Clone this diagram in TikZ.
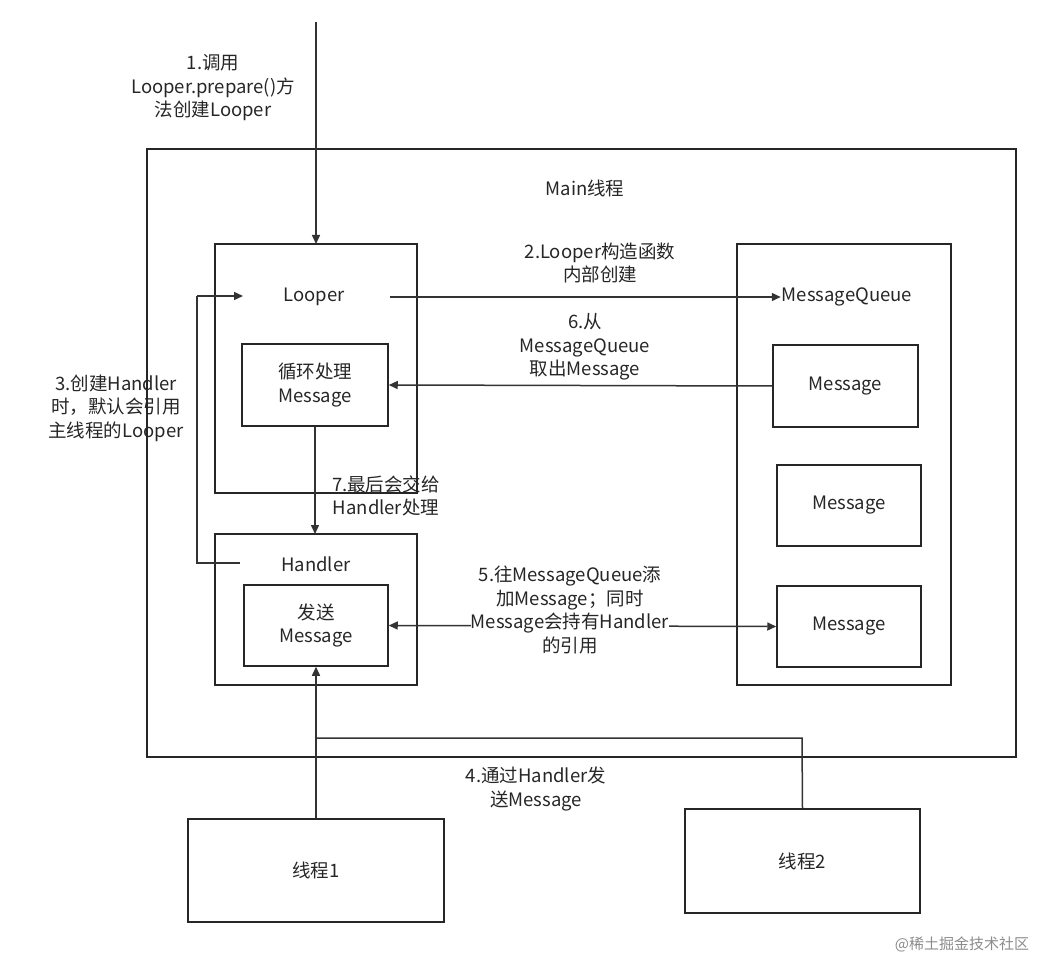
\documentclass[tikz,border=0pt]{standalone}
\usepackage{fontspec}
\setmainfont{Noto Sans CJK SC}
\usetikzlibrary{arrows.meta}
\begin{document}
\begin{tikzpicture}[x=1pt,y=-1pt,
  box/.style={draw=black!85,line width=1.5pt},
  lbl/.style={align=center,font=\fontsize{18.5}{23.5}\selectfont,text=black!85,inner sep=1pt},
  arr/.style={draw=black!80,line width=1.5pt,-{Triangle[length=9pt,width=8pt]}},
  ln/.style={draw=black!80,line width=1.5pt}]
\useasboundingbox (0,0) rectangle (1053,960);
\draw[box] (147,149) rectangle (1016,757);
\node[lbl] (mt) at (585,188) {Main线程};
\draw[box] (215,244) rectangle (417,493);
\node[lbl] (looper) at (314,297) {Looper};
\node[box,lbl,minimum width=146pt,minimum height=82pt] (loop) at (315,385) {循环处理\\Message};
\draw[box] (737,244) rectangle (951,685);
\node[lbl] (mq) at (847,297) {MessageQueue};
\node[box,lbl,minimum width=145pt,minimum height=82pt] (m1) at (845.5,386) {Message};
\node[box,lbl,minimum width=144pt,minimum height=81pt] (m2) at (849,505.5) {Message};
\node[box,lbl,minimum width=144pt,minimum height=81pt] (m3) at (849,626.5) {Message};
\draw[box] (215,534) rectangle (417,685);
\node[lbl] (handler) at (316,564) {Handler};
\node[box,lbl,minimum width=144pt,minimum height=81pt] (send) at (316,625.5) {发送\\Message};
\node[box,lbl,minimum width=256pt,minimum height=103pt] (t1) at (316,870.5) {线程1};
\node[box,lbl,minimum width=235pt,minimum height=104pt] (t2) at (802.5,861) {线程2};
\coordinate (top) at (316,22);
\coordinate (ls) at (390,297);
\draw[arr] (top) -- (316,244);
\node[lbl] at (213,88) {1.调用\\Looper.prepare()方\\法创建Looper};
\draw[arr] (ls) -- (mq.west);
\node[lbl] at (600,263) {2.Looper构造函数\\内部创建};
\draw[arr] (m1.west) -- (loop.east);
\node[lbl] at (585,347) {6.从\\MessageQueue\\取出Message};
\draw[arr] (loop.south) -- (315,534);
\node[lbl] at (386,496) {7.最后会交给\\Handler处理};
\draw[ln] (240,563) -- (197,563) -- (197,296);
\draw[arr] (197,296) -- (243,296);
\node[lbl] at (116,408) {3.创建Handler\\时，默认会引用\\主线程的Looper};
\draw[arr,{Triangle[length=9pt,width=8pt]}-{Triangle[length=9pt,width=8pt]}] (send.east) -- (m3.west);
\node[lbl,fill=white,inner sep=0pt] at (570,610) {5.往MessageQueue添\\加Message；同时\\Message会持有Handler\\的引用};
\draw[arr] (t1.north) -- (send.south);
\draw[ln] (t2.north) -- (802,738) -- (316,738);
\node[lbl] at (536,789) {4.通过Handler发\\送Message};
\node[lbl,text=black!45,font=\fontsize{15}{18}\selectfont] at (962,944) {@稀土掘金技术社区};
\end{tikzpicture}
\end{document}
